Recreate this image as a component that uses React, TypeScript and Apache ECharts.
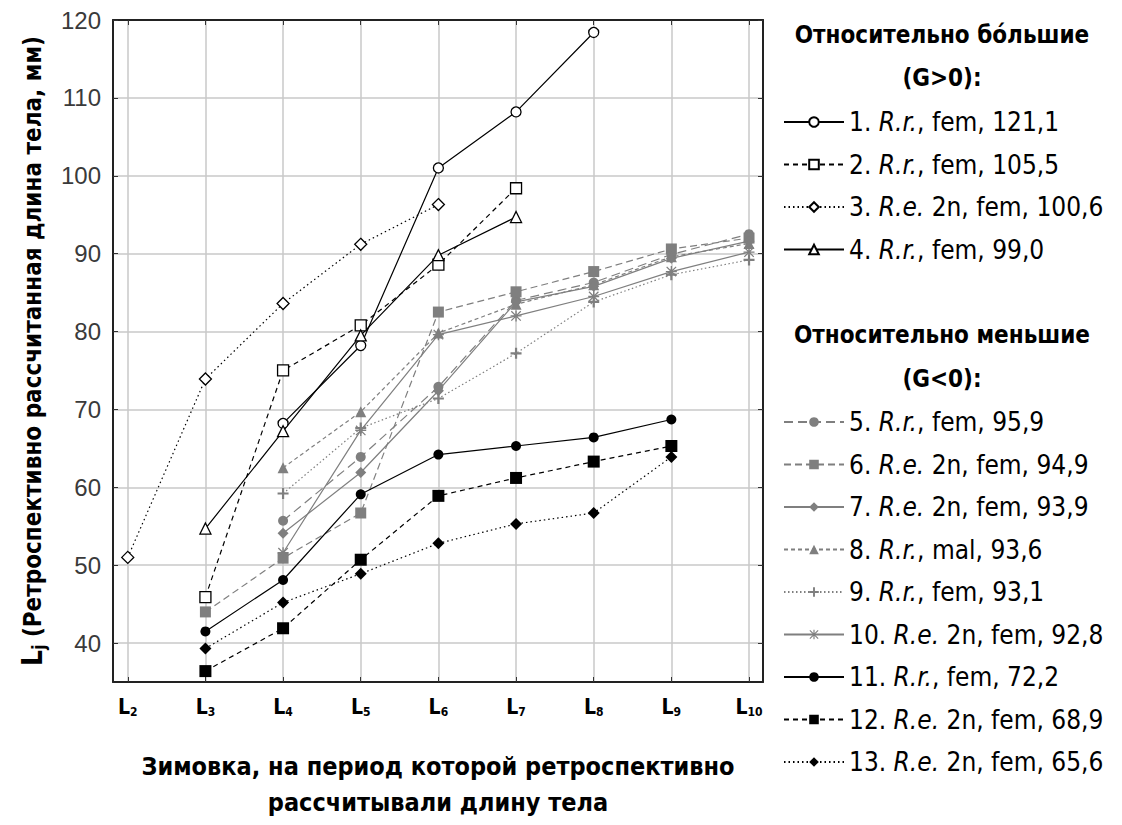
import React, { useEffect, useRef } from 'react';
import * as echarts from 'echarts';

// Wintering index (L2 ... L10)
const winterings = [2, 3, 4, 5, 6, 7, 8, 9, 10];
const yTicks = [40, 50, 60, 70, 80, 90, 100, 110, 120];

// Retrospectively calculated body length, mm, for L2..L10 (null = no value)
const s1 = [null, null, 68.2, 78.2, 101.0, 108.2, 118.4, null, null];
const s2 = [null, 45.9, 75.0, 80.8, 88.6, 98.4, null, null, null];
const s3 = [51.0, 73.9, 83.6, 91.2, 96.3, null, null, null, null];
const s4 = [null, 54.7, 67.2, 79.5, 89.8, 94.7, null, null, null];
const s5 = [null, null, 55.7, 63.9, 72.9, 84.0, 86.3, 89.9, 92.5];
const s6 = [null, 44.0, 50.9, 56.7, 82.5, 85.1, 87.7, 90.6, 92.0];
const s7 = [null, null, 54.1, 61.9, 72.4, 83.8, 85.8, 89.4, 91.6];
const s8 = [null, null, 62.5, 69.7, 79.8, 83.5, 86.0, 89.6, 91.3];
const s9 = [null, null, 59.2, 67.6, 71.4, 77.2, 83.8, 87.3, 89.2];
const s10 = [null, null, 51.6, 67.3, 79.6, 82.0, 84.5, 87.7, 90.2];
const s11 = [null, 41.5, 48.1, 59.1, 64.2, 65.3, 66.4, 68.7, null];
const s12 = [null, 36.4, 41.9, 50.7, 58.9, 61.2, 63.3, 65.3, null];
const s13 = [null, 39.3, 45.2, 48.9, 52.8, 55.3, 56.7, 63.9, null];

const allSeries = [s1, s2, s3, s4, s5, s6, s7, s8, s9, s10, s11, s12, s13];

const seriesNo = ['1', '2', '3', '4', '5', '6', '7', '8', '9', '10', '11', '12', '13'];
const species = ['R.r.', 'R.r.', 'R.e.', 'R.r.', 'R.r.', 'R.e.', 'R.e.', 'R.r.', 'R.r.', 'R.e.', 'R.r.', 'R.e.', 'R.e.'];
const restText = [
  ', fem, 121,1', ', fem, 105,5', ' 2n, fem, 100,6', ', fem, 99,0',
  ', fem, 95,9', ' 2n, fem, 94,9', ' 2n, fem, 93,9', ', mal, 93,6', ', fem, 93,1', ' 2n, fem, 92,8',
  ', fem, 72,2', ' 2n, fem, 68,9', ' 2n, fem, 65,6',
];

const groupTitles = ['Относительно бóльшие', '(G>0):', 'Относительно меньшие', '(G<0):'];
const yAxisTitle = ' (Ретроспективно рассчитанная длина тела, мм)';
const xAxisTitle = 'Зимовка, на период которой ретроспективно\nрассчитывали длину тела';

const PLUS = 'path://M4,0h2v4h4v2h-4v4h-2v-4h-4v-2h4z';
const STAR =
  'path://M4.4,0h1.2v10h-1.2z M0,4.4h10v1.2h-10z M1.1,0.3L9.7,8.9L8.9,9.7L0.3,1.1z M8.9,0.3L9.7,1.1L1.1,9.7L0.3,8.9z';

const BLACK = '#000000';
const GRAY = '#7f7f7f';

// visual style per series
const styles = [
  { color: BLACK, fill: '#fff', dash: 'solid', symbol: 'circle', size: 10 },
  { color: BLACK, fill: '#fff', dash: [5, 4], symbol: 'rect', size: 11 },
  { color: BLACK, fill: '#fff', dash: [1.5, 3], symbol: 'diamond', size: 12 },
  { color: BLACK, fill: '#fff', dash: 'solid', symbol: 'triangle', size: 11 },
  { color: GRAY, fill: GRAY, dash: [9, 5], symbol: 'circle', size: 10 },
  { color: GRAY, fill: GRAY, dash: [7, 4], symbol: 'rect', size: 11 },
  { color: GRAY, fill: GRAY, dash: 'solid', symbol: 'diamond', size: 11 },
  { color: GRAY, fill: GRAY, dash: [4, 3], symbol: 'triangle', size: 11 },
  { color: GRAY, fill: GRAY, dash: [1.5, 2.5], symbol: PLUS, size: 11 },
  { color: GRAY, fill: GRAY, dash: 'solid', symbol: STAR, size: 11 },
  { color: BLACK, fill: BLACK, dash: 'solid', symbol: 'circle', size: 10 },
  { color: BLACK, fill: BLACK, dash: [5, 4], symbol: 'rect', size: 12 },
  { color: BLACK, fill: BLACK, dash: [1.5, 3], symbol: 'diamond', size: 12 },
];

const NARROW = "'Liberation Sans Narrow', 'Arial Narrow', 'DejaVu Sans Condensed', 'Liberation Sans', sans-serif";
const ARIAL = "'Liberation Sans', Arial, sans-serif";

const names = seriesNo.map((n, i) => `${n}. ${species[i]}${restText[i]}`);

export default function App() {
  const ref = useRef<HTMLDivElement>(null);

  useEffect(() => {
    if (!ref.current) return;
    const chart = echarts.init(ref.current, undefined, { renderer: 'svg' });

    const LFS = 26;
    const legendRich = {
      a: { fontFamily: NARROW, fontSize: LFS, color: '#000' },
      b: { fontFamily: NARROW, fontSize: LFS, color: '#000', fontStyle: 'italic' },
    };
    const legendFormatter = (name: string) => {
      const i = names.indexOf(name);
      return `{a|${seriesNo[i]}. }{b|${species[i]}}{a|${restText[i]}}`;
    };
    const legendBase = {
      orient: 'vertical',
      left: 778,
      itemWidth: 60,
      itemHeight: 12,
      itemGap: 16.5,
      selectedMode: false,
      formatter: legendFormatter,
      textStyle: { fontFamily: NARROW, fontSize: LFS, color: '#000', rich: legendRich },
    };

    const axisLineStyle = { color: '#222', width: 2 };
    const gridLine = { show: true, lineStyle: { color: '#c8c8c8', width: 1.5 } };
    const titleStyle = { fontFamily: NARROW, fontWeight: 'bold', fontSize: 24, fill: '#000', align: 'center', verticalAlign: 'middle' };

    const option: any = {
      animation: false,
      backgroundColor: '#ffffff',
      grid: { left: 113, top: 20, right: 359, bottom: 140 },
      xAxis: [
        {
          type: 'value',
          min: 1.81,
          max: 10.18,
          position: 'bottom',
          axisLine: { show: true, lineStyle: axisLineStyle },
          axisTick: { show: true, inside: true, length: 5, customValues: winterings, lineStyle: { color: '#333' } },
          axisLabel: {
            customValues: winterings,
            margin: 14,
            formatter: (v: number) => `{L|L}{s|${v}}`,
            rich: {
              L: { fontFamily: NARROW, fontWeight: 'bold', fontSize: 21, color: '#000' },
              s: { fontFamily: NARROW, fontWeight: 'bold', fontSize: 12, color: '#000', verticalAlign: 'bottom', padding: [10, 0, 0, 0] },
            },
          },
          splitLine: gridLine,
          name: xAxisTitle,
          nameLocation: 'middle',
          nameGap: 66,
          nameTextStyle: { fontFamily: NARROW, fontWeight: 'bold', fontSize: 25, color: '#000', lineHeight: 36 },
        },
        {
          type: 'value',
          min: 1.81,
          max: 10.18,
          position: 'top',
          axisLine: { show: true, lineStyle: axisLineStyle },
          axisTick: { show: true, inside: true, length: 5, customValues: winterings, lineStyle: { color: '#333' } },
          axisLabel: { show: false },
          splitLine: { show: false },
        },
      ],
      yAxis: [
        {
          type: 'value',
          min: 35,
          max: 120,
          position: 'left',
          axisLine: { show: true, lineStyle: axisLineStyle },
          axisTick: { show: true, inside: true, length: 5, customValues: yTicks, lineStyle: { color: '#333' } },
          axisLabel: { customValues: yTicks, margin: 12, fontFamily: ARIAL, fontSize: 24, color: '#3a3a3a' },
          splitLine: gridLine,
          name: `{L|L}{j|j}{t|${yAxisTitle}}`,
          nameLocation: 'middle',
          nameGap: 66,
          nameTextStyle: {
            rich: {
              L: { fontFamily: NARROW, fontWeight: 'bold', fontSize: 28, color: '#000' },
              j: { fontFamily: NARROW, fontWeight: 'bold', fontSize: 17, color: '#000', verticalAlign: 'bottom', padding: [12, 0, 0, 0] },
              t: { fontFamily: NARROW, fontWeight: 'bold', fontSize: 24, color: '#000' },
            },
          },
        },
        {
          type: 'value',
          min: 35,
          max: 120,
          position: 'right',
          axisLine: { show: true, lineStyle: axisLineStyle },
          axisTick: { show: true, inside: true, length: 5, customValues: yTicks, lineStyle: { color: '#333' } },
          axisLabel: { show: false },
          splitLine: { show: false },
        },
      ],
      legend: [
        { ...legendBase, top: 104, data: names.slice(0, 4) },
        { ...legendBase, top: 404, data: names.slice(4) },
      ],
      graphic: [
        { type: 'text', x: 942, y: 35, style: { ...titleStyle, text: groupTitles[0] } },
        { type: 'text', x: 942, y: 78, style: { ...titleStyle, text: groupTitles[1] } },
        { type: 'text', x: 942, y: 335, style: { ...titleStyle, text: groupTitles[2] } },
        { type: 'text', x: 942, y: 379, style: { ...titleStyle, text: groupTitles[3] } },
      ],
      series: allSeries.map((arr, i) => {
        const st = styles[i];
        const data = winterings
          .map((w, k) => [w, arr[k]])
          .filter((p) => p[1] !== null);
        return {
          name: names[i],
          type: 'line',
          xAxisIndex: 0,
          yAxisIndex: 0,
          data,
          symbol: st.symbol,
          symbolSize: st.size,
          showAllSymbol: true,
          lineStyle: { color: st.color, width: 1.2, type: st.dash },
          itemStyle: { color: st.fill, borderColor: st.color, borderWidth: st.fill === '#fff' ? 1.3 : 0 },
          emphasis: { disabled: true },
          z: i >= 10 ? 4 : i < 4 ? 3 : 2,
        };
      }),
    };

    chart.setOption(option);
    return () => chart.dispose();
  }, []);

  return <div ref={ref} style={{ position: 'fixed', left: 0, top: 0, width: 1122, height: 825, background: '#fff' }} />;
}
